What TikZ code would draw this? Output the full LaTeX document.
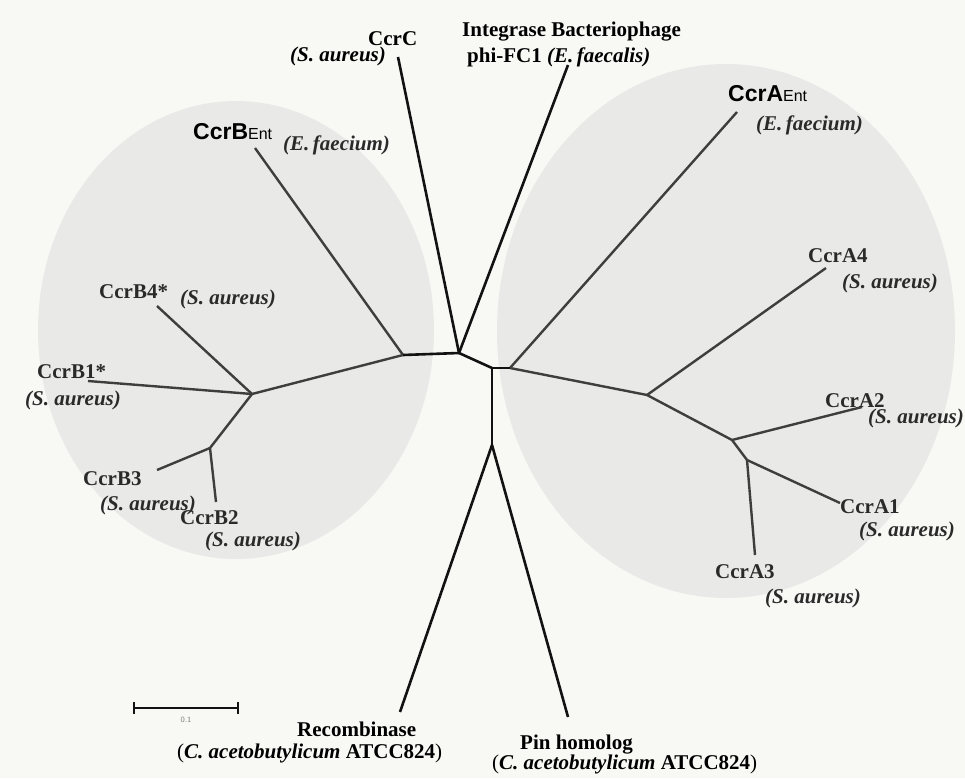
\documentclass[tikz,border=0pt]{standalone}
\usepackage{fontspec}
\setmainfont{Liberation Serif}
\newfontfamily\arialfont{Liberation Sans}
\definecolor{bgc}{RGB}{248,248,245}
\definecolor{ellc}{RGB}{233,233,231}
\definecolor{inline}{RGB}{62,62,62}
\definecolor{outline}{RGB}{18,18,18}
\definecolor{labc}{RGB}{42,42,42}
\begin{document}
\begin{tikzpicture}[x=1pt,y=-1pt,
  lab/.style={font=\fontsize{21}{24}\selectfont\bfseries, text=labc, inner sep=0pt, anchor=base west},
  spc/.style={font=\fontsize{21}{24}\selectfont\bfseries\itshape, text=labc, inner sep=0pt, anchor=base west},
  entb/.style={font=\arialfont\fontsize{23}{26}\selectfont\bfseries, text=black, inner sep=0pt, anchor=base west},
  branch/.style={draw=inline, line width=2.4pt},
  trunk/.style={draw=outline, line width=2.6pt},
  clade/.style={fill=ellc},
]
\useasboundingbox (0,0) rectangle (965,778);
\fill[bgc] (0,0) rectangle (965,778);
% clades
\fill[clade] (236,330) ellipse [x radius=198, y radius=229];
\fill[clade] (726,331) ellipse [x radius=229, y radius=267];

% tree coordinates
\coordinate (A) at (459,353);
\coordinate (B) at (403,355);
\coordinate (C) at (492,368);
\coordinate (D) at (510,368);
\coordinate (E) at (492,445);
\coordinate (F) at (252,394);
\coordinate (G) at (210,448);
\coordinate (H) at (647,395);
\coordinate (I) at (732,440);
\coordinate (J) at (747,460);
\coordinate (tC) at (398,57);
\coordinate (tInt) at (568,65);
\coordinate (tBEnt) at (255,148);
\coordinate (tB4) at (157,306);
\coordinate (tB1) at (88,381);
\coordinate (tB3) at (157,470);
\coordinate (tB2) at (216,502);
\coordinate (tAEnt) at (737,112);
\coordinate (tA4) at (826,268);
\coordinate (tA2) at (862,407);
\coordinate (tA1) at (840,503);
\coordinate (tA3) at (755,555);
\coordinate (tRec) at (400,712);
\coordinate (tPin) at (568,717);

% branches
\draw[branch] (B) -- (tBEnt);
\draw[branch] (B) -- (F);
\draw[branch] (F) -- (tB4);
\draw[branch] (F) -- (tB1);
\draw[branch] (F) -- (G);
\draw[branch] (G) -- (tB3);
\draw[branch] (G) -- (tB2);
\draw[branch] (D) -- (tAEnt);
\draw[branch] (D) -- (H);
\draw[branch] (H) -- (tA4);
\draw[branch] (H) -- (I);
\draw[branch] (I) -- (tA2);
\draw[branch] (I) -- (J);
\draw[branch] (J) -- (tA1);
\draw[branch] (J) -- (tA3);
\draw[trunk] (A) -- (tC);
\draw[trunk] (A) -- (tInt);
\draw[trunk] (A) -- (B);
\draw[trunk] (A) -- (C);
\draw[trunk] (C) -- (D);
\draw[trunk] (C) -- (E);
\draw[trunk] (E) -- (tRec);
\draw[trunk] (E) -- (tPin);

% top labels
\node[lab, text=black] (lCcrC) at (368,46) {CcrC};
\node[spc, text=black] (sCcrC) at (290,62) {(S. aureus)};
\node[lab, text=black] (lInt) at (462,37) {Integrase Bacteriophage};
\node[lab, text=black] (lPhi) at (467,63) {phi-FC1 {\itshape (E.\,faecalis)}};

% left clade labels
\node[entb] (lBEnt) at (193,140) {CcrB{\fontsize{16}{18}\selectfont\mdseries Ent}};
\node[spc] (sBEnt) at (283,151) {(E.\,faecium)};
\node[lab] (lB4) at (99,298) {CcrB4*};
\node[spc] (sB4) at (180,304) {(S. aureus)};
\node[lab] (lB1) at (37,378) {CcrB1*};
\node[spc] (sB1) at (25,405) {(S. aureus)};
\node[lab] (lB3) at (83,485) {CcrB3};
\node[spc] (sB3) at (100,510) {(S. aureus)};
\node[lab] (lB2) at (180,524) {CcrB2};
\node[spc] (sB2) at (205,546) {(S. aureus)};

% right clade labels
\node[entb] (lAEnt) at (728,102) {CcrA{\fontsize{16}{18}\selectfont\mdseries Ent}};
\node[spc] (sAEnt) at (756,131) {(E.\,faecium)};
\node[lab] (lA4) at (808,262) {CcrA4};
\node[spc] (sA4) at (842,288) {(S. aureus)};
\node[lab] (lA2) at (825,407) {CcrA2};
\node[spc] (sA2) at (868,423) {(S. aureus)};
\node[lab] (lA1) at (840,513) {CcrA1};
\node[spc] (sA1) at (859,536) {(S. aureus)};
\node[lab] (lA3) at (715,578) {CcrA3};
\node[spc] (sA3) at (765,603) {(S. aureus)};

% bottom labels
\node[lab, text=black] (lRec) at (297,736) {Recombinase};
\node[lab, text=black] (sRec) at (177,758) {{\mdseries(}{\itshape C. acetobutylicum} ATCC824{\mdseries)}};
\node[lab, text=black] (lPin) at (520,749) {Pin homolog};
\node[lab, text=black] (sPin) at (492,769) {{\mdseries(}{\itshape C. acetobutylicum} ATCC824{\mdseries)}};

% scale bar
\coordinate (sb1) at (134,708);
\coordinate (sb2) at (238,708);
\draw[outline, line width=2pt] (sb1) -- (sb2);
\draw[outline, line width=2pt] ([yshift=6pt]sb1) -- ([yshift=-6pt]sb1);
\draw[outline, line width=2pt] ([yshift=6pt]sb2) -- ([yshift=-6pt]sb2);
\node[font=\sffamily\fontsize{8}{9}\selectfont, text=gray, inner sep=0pt] (sbl) at (186,720) {0.1};
\end{tikzpicture}
\end{document}
